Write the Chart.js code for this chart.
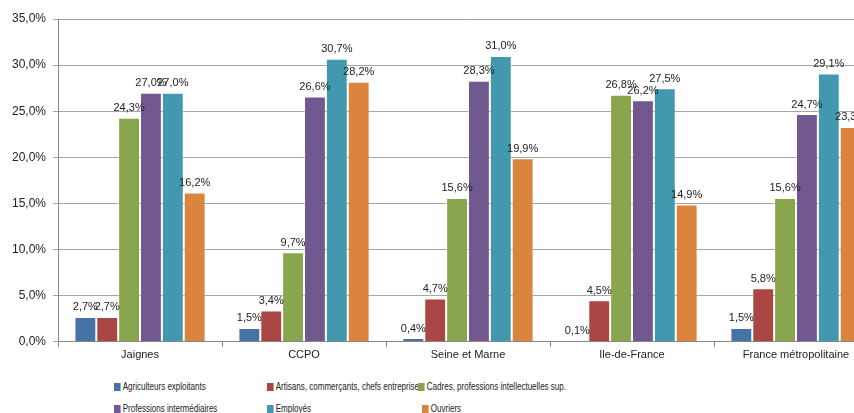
<!DOCTYPE html>
<html>
<head>
<meta charset="utf-8">
<script src="https://cdn.jsdelivr.net/npm/chart.js@4"></script>
<style>
  body { margin: 0; overflow: hidden; background: #fff; font-family: "Liberation Sans", Arial, sans-serif; }
  #wrap { position: absolute; left: 0; top: 0; width: 900px; height: 372px; }
  .leg { position: absolute; font: 11px "Liberation Sans", Arial, sans-serif; color: #222; white-space: nowrap; transform: scaleX(0.73); transform-origin: 0 50%; }
  .leg i { display: inline-block; width: 9px; height: 8px; margin-right: 3px; vertical-align: -1px; }
</style>
</head>
<body>
<div id="wrap"><canvas id="chart"></canvas></div>
<div id="legend"></div>
<script>
const categories = ['Jaignes', 'CCPO', 'Seine et Marne', 'Ile-de-France', 'France métropolitaine'];
const seriesNames = [
  'Agriculteurs exploitants',
  'Artisans, commerçants, chefs entreprise',
  'Cadres, professions intellectuelles sup.',
  'Professions intermédiaires',
  'Employés',
  'Ouvriers'
];
const agriculteurs = [2.7, 1.5, 0.4, 0.1, 1.5];
const artisans = [2.7, 3.4, 4.7, 4.5, 5.8];
const cadres = [24.3, 9.7, 15.6, 26.8, 15.6];
const intermediaires = [27.0, 26.6, 28.3, 26.2, 24.7];
const employes = [27.0, 30.7, 31.0, 27.5, 29.1];
const ouvriers = [16.2, 28.2, 19.9, 14.9, 23.3];
const colors = ['#4572A7', '#AA4643', '#89A54E', '#71588F', '#4198AF', '#DB843D'];

const allSeries = [agriculteurs, artisans, cadres, intermediaires, employes, ouvriers];

function fmt(v) {
  return v.toFixed(1).replace('.', ',') + '%';
}

const valueLabels = {
  id: 'valueLabels',
  afterDatasetsDraw(chart) {
    const ctx = chart.ctx;
    ctx.save();
    ctx.font = '11px "Liberation Sans", Arial, sans-serif';
    ctx.fillStyle = '#222';
    ctx.textAlign = 'center';
    ctx.textBaseline = 'bottom';
    chart.data.datasets.forEach((ds, i) => {
      chart.getDatasetMeta(i).data.forEach((bar, j) => {
        ctx.fillText(fmt(ds.data[j]), bar.x, bar.y - 4);
      });
    });
    ctx.restore();
  }
};

new Chart(document.getElementById('chart'), {
  type: 'bar',
  data: {
    labels: categories,
    datasets: allSeries.map((d, i) => ({
      label: seriesNames[i],
      data: d,
      backgroundColor: colors[i],
      borderColor: 'rgba(255,255,255,0.35)',
      borderWidth: 1,
      categoryPercentage: 0.8,
      barPercentage: 1.0
    }))
  },
  options: {
    responsive: true,
    maintainAspectRatio: false,
    animation: false,
    layout: { padding: { left: 5, right: 22, top: 19, bottom: 8 } },
    plugins: {
      legend: { display: false },
      tooltip: { enabled: false }
    },
    scales: {
      x: {
        grid: { drawOnChartArea: false, drawTicks: true, tickLength: 5, offset: true, color: '#888' },
        border: { color: '#888' },
        ticks: { color: '#222', font: { size: 11, family: '"Liberation Sans", Arial, sans-serif' }, maxRotation: 0, padding: 2 }
      },
      y: {
        min: 0,
        max: 35,
        ticks: {
          stepSize: 5,
          color: '#222',
          padding: 7,
          font: { size: 12, family: '"Liberation Sans", Arial, sans-serif' },
          callback: v => fmt(v)
        },
        grid: { color: '#a6a6a6', tickLength: 5 },
        border: { color: '#888' }
      }
    }
  },
  plugins: [valueLabels]
});

// legend laid out in three columns like the original
const legendPos = [[114, 380], [267, 380], [418, 380], [114, 402], [267, 402], [422, 402]];
const legend = document.getElementById('legend');
seriesNames.forEach((name, i) => {
  const el = document.createElement('div');
  el.className = 'leg';
  el.style.left = legendPos[i][0] + 'px';
  el.style.top = legendPos[i][1] + 'px';
  el.innerHTML = '<i style="background:' + colors[i] + '"></i>' + name;
  legend.appendChild(el);
});
</script>
</body>
</html>
